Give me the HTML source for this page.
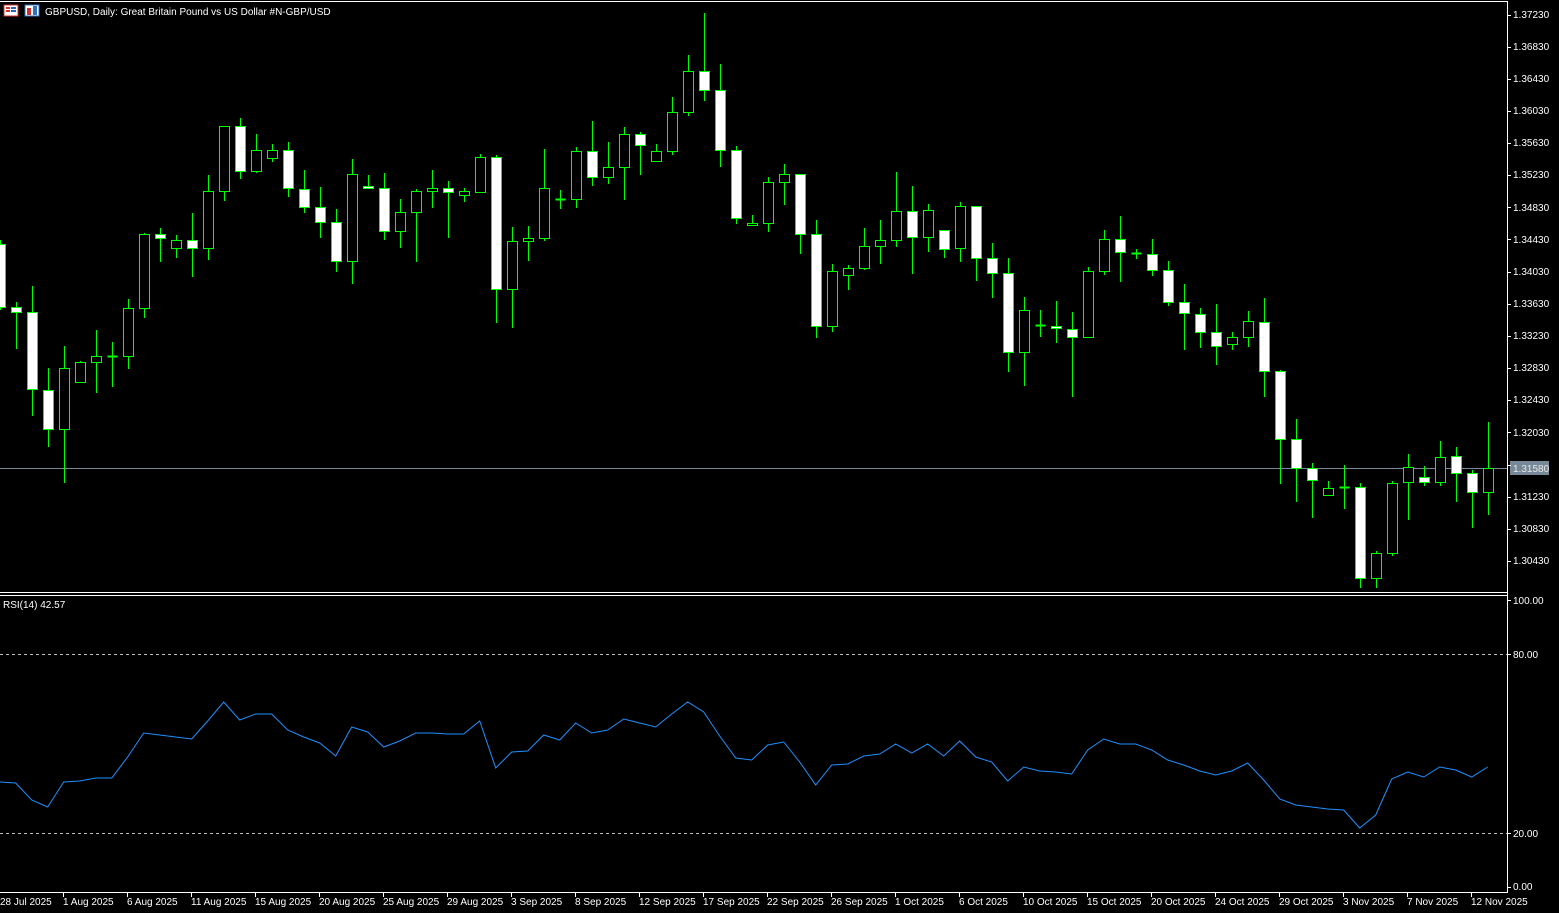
<!DOCTYPE html>
<html><head><meta charset="utf-8"><style>
html,body{margin:0;padding:0;background:#000;width:1559px;height:913px;overflow:hidden}
svg{display:block}
text{font-family:"Liberation Sans",sans-serif;font-size:10px;fill:#fff}
</style></head><body>
<svg id="s" width="1559" height="913" xmlns="http://www.w3.org/2000/svg" shape-rendering="crispEdges">
<rect width="1559" height="913" fill="#000"/>
<line x1="0" y1="1.5" x2="1508" y2="1.5" stroke="#fff"/>
<line x1="0" y1="592.5" x2="1508" y2="592.5" stroke="#fff"/>
<line x1="0" y1="595.5" x2="1508" y2="595.5" stroke="#fff"/>
<line x1="1507.5" y1="1" x2="1507.5" y2="893" stroke="#fff"/>
<line x1="0" y1="892.5" x2="1508" y2="892.5" stroke="#fff"/>
<line x1="0" y1="468.5" x2="1507" y2="468.5" stroke="#778899"/>
<line x1="0" y1="654.5" x2="1507" y2="654.5" stroke="#c0c0c0" stroke-dasharray="3,3"/>
<line x1="0" y1="833.5" x2="1507" y2="833.5" stroke="#c0c0c0" stroke-dasharray="3,3"/>
<g id="c"></g>
<polyline id="rsi" fill="none" stroke="#1e90ff" stroke-width="1" shape-rendering="auto"/>
<!-- header icons -->
<rect x="4" y="5" width="14" height="11" fill="#fff" stroke="#d03030"/>
<rect x="6" y="7" width="4" height="2" fill="#d03030"/><rect x="11" y="7" width="5" height="2" fill="#3060c0"/>
<rect x="6" y="10" width="4" height="2" fill="#d03030"/><rect x="11" y="10" width="5" height="2" fill="#3060c0"/>
<rect x="25" y="5" width="14" height="11" fill="#fff" stroke="#3070c0"/>
<rect x="27" y="8" width="4" height="7" fill="#d03030"/><rect x="33" y="6" width="4" height="9" fill="#3070c0"/>
<text x="45" y="15">GBPUSD, Daily:  Great Britain Pound vs US Dollar #N-GBP/USD</text>
<text x="3" y="608">RSI(14) 42.57</text>
<g id="pa">
<text x="1513" y="18">1.37230</text>
<text x="1513" y="50">1.36830</text>
<text x="1513" y="82">1.36430</text>
<text x="1513" y="114">1.36030</text>
<text x="1513" y="146">1.35630</text>
<text x="1513" y="178">1.35230</text>
<text x="1513" y="211">1.34830</text>
<text x="1513" y="243">1.34430</text>
<text x="1513" y="275">1.34030</text>
<text x="1513" y="307">1.33630</text>
<text x="1513" y="339">1.33230</text>
<text x="1513" y="371">1.32830</text>
<text x="1513" y="403">1.32430</text>
<text x="1513" y="436">1.32030</text>
<text x="1513" y="500">1.31230</text>
<text x="1513" y="532">1.30830</text>
<text x="1513" y="564">1.30430</text>
<text x="1513" y="604">100.00</text>
<text x="1513" y="658">80.00</text>
<text x="1513" y="837">20.00</text>
<text x="1513" y="890">0.00</text>
</g>
<rect x="1510" y="461" width="39" height="14" fill="#778899"/>
<text x="1513" y="472" style="fill:#e8e8e8">1.31580</text>
<g id="dl">
<text x="0" y="905">28 Jul 2025</text>
<text x="63" y="905">1 Aug 2025</text>
<text x="127" y="905">6 Aug 2025</text>
<text x="191" y="905">11 Aug 2025</text>
<text x="255" y="905">15 Aug 2025</text>
<text x="319" y="905">20 Aug 2025</text>
<text x="383" y="905">25 Aug 2025</text>
<text x="447" y="905">29 Aug 2025</text>
<text x="511" y="905">3 Sep 2025</text>
<text x="575" y="905">8 Sep 2025</text>
<text x="639" y="905">12 Sep 2025</text>
<text x="703" y="905">17 Sep 2025</text>
<text x="767" y="905">22 Sep 2025</text>
<text x="831" y="905">26 Sep 2025</text>
<text x="895" y="905">1 Oct 2025</text>
<text x="959" y="905">6 Oct 2025</text>
<text x="1023" y="905">10 Oct 2025</text>
<text x="1087" y="905">15 Oct 2025</text>
<text x="1151" y="905">20 Oct 2025</text>
<text x="1215" y="905">24 Oct 2025</text>
<text x="1279" y="905">29 Oct 2025</text>
<text x="1343" y="905">3 Nov 2025</text>
<text x="1407" y="905">7 Nov 2025</text>
<text x="1471" y="905">12 Nov 2025</text>
</g>
<g id="tk" stroke="#fff"></g>
</svg>
<script>
var C=[[240,310,244,307,1],[302,349,307,312,1],[286,416,312,389,1],[368,447,390,429,1],[346,483,368,429,0],[361,382,362,382,0],[330,393,356,362,0],[342,387,356,356,0],[299,369,308,356,0],[233,318,234,308,0],
[228,262,234,238,1],[235,258,240,248,0],[213,277,240,248,1],[175,260,191,248,0],[126,201,126,191,0],[118,179,126,171,1],[134,173,150,171,0],[144,162,150,158,0],[142,197,150,188,1],[170,213,189,207,1],
[187,238,207,222,1],[209,272,222,261,1],[159,284,174,261,0],[175,188,186,188,1],[173,240,188,231,1],[199,248,212,231,0],[189,262,191,212,0],[170,208,188,191,0],[181,238,188,192,1],[188,202,191,195,0],
[154,192,157,192,0],[155,323,157,289,1],[227,328,241,289,0],[226,261,238,241,0],[149,241,188,238,0],[190,209,199,199,0],[147,208,151,199,0],[121,186,151,177,1],[142,184,167,177,0],[127,200,134,167,0],
[132,175,134,145,1],[144,161,151,161,0],[97,155,112,151,0],[55,116,71,112,0],[13,101,71,90,1],[64,167,90,150,1],[146,224,150,218,1],[215,225,223,225,0],[177,232,182,223,0],[164,205,174,182,0],
[174,254,174,234,1],[220,338,234,326,1],[264,332,271,326,0],[265,290,268,275,0],[228,270,246,268,0],[220,264,240,246,0],[172,247,211,240,0],[186,274,211,237,1],[204,252,210,237,0],[230,258,230,249,1],
[202,262,206,248,0],[206,281,206,258,1],[243,298,258,273,1],[258,372,273,352,1],[297,386,310,352,0],[310,337,325,325,0],[301,343,326,328,1],[312,397,329,337,1],[267,337,271,337,0],[230,275,239,271,0],
[216,282,239,252,1],[249,259,253,253,0],[239,276,254,270,1],[261,306,270,302,1],[284,350,302,313,1],[308,348,314,332,1],[304,365,332,346,1],[332,350,337,344,0],[311,347,321,337,0],[298,397,322,371,1],
[370,484,371,439,1],[419,502,439,468,1],[463,518,468,480,1],[481,495,488,495,0],[465,509,487,487,0],[483,588,487,578,1],[551,588,553,578,0],[481,556,483,553,0],[454,520,467,482,0],[466,486,477,482,1],
[441,486,457,482,0],[447,502,456,473,1],[470,528,473,492,1],[422,515,468,492,0]];
var R=[782,783,800,807,782,781,778,778,757,733,735,737,739,721,702,720,714,714,730,737,743,756,727,732,747,741,733,733,734,734,721,768,752,751,735,740,723,733,730,719,723,727,714,702,712,736,758,760,745,742,762,785,765,764,756,754,744,753,744,756,741,757,762,781,767,771,772,774,750,739,744,744,750,760,765,771,775,771,763,780,799,805,807,809,810,828,815,779,772,777,767,770,777,767];
var ns="http://www.w3.org/2000/svg",g=document.getElementById('c'),h='';
C.forEach(function(d,i){var x=Math.round(-0.3+16*i)+0.5;
h+='<line x1="'+x+'" y1="'+d[0]+'" x2="'+x+'" y2="'+d[1]+'" stroke="#00ff00"/>';
var t=d[2],b=d[3];
if(b-t<1){h+='<line x1="'+(x-5)+'" y1="'+(t+0.5)+'" x2="'+(x+5)+'" y2="'+(t+0.5)+'" stroke="#00ff00" stroke-width="2"/>';}
else h+='<rect x="'+(x-5)+'" y="'+(t+0.5)+'" width="10" height="'+(b-t)+'" fill="'+(d[4]?'#fff':'#000')+'" stroke="#00ff00"/>';});
g.innerHTML=h;
document.getElementById('rsi').setAttribute('points',R.map(function(y,i){return (-0.3+16*i).toFixed(1)+','+y}).join(' '));
var tk='',ys=[15,47,79,111,143,175,207,239,272,304,336,368,400,432,465,497,529,561,600,654,833,887];
ys.forEach(function(y){tk+='<line x1="1508" y1="'+(y+0.5)+'" x2="1511" y2="'+(y+0.5)+'"/>'});
for(var k=0;k<24;k++){var x=-1+64*k+0.5;tk+='<line x1="'+x+'" y1="893" x2="'+x+'" y2="897"/>'}
document.getElementById('tk').innerHTML=tk;
</script>
</body></html>
